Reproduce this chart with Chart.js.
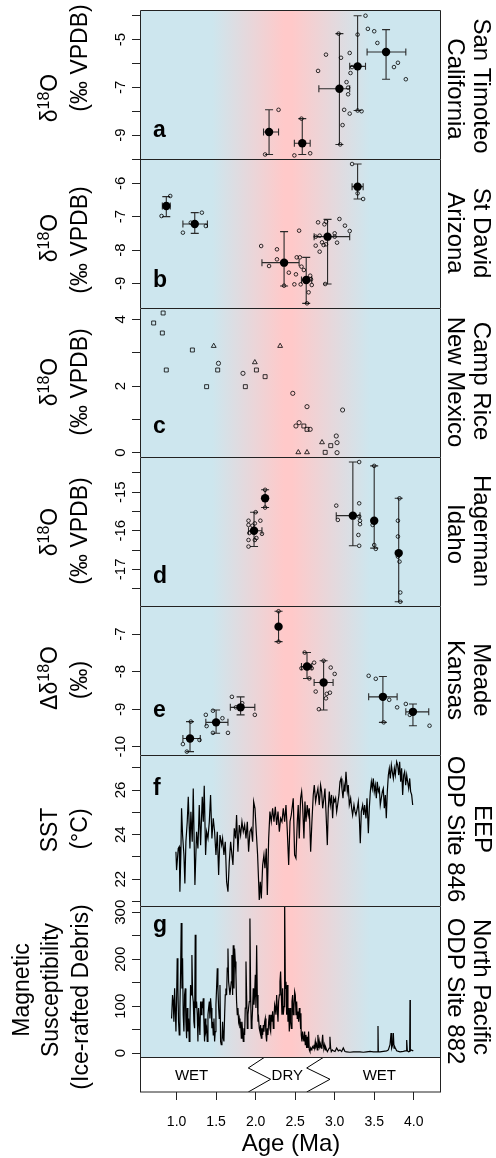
<!DOCTYPE html>
<html>
<head>
<meta charset="utf-8">
<title>Pliocene-Pleistocene records</title>
<script src="https://cdn.jsdelivr.net/npm/chart.js@4.4.1/dist/chart.umd.min.js"></script>
<style>
  html, body { margin: 0; padding: 0; background: #fff; }
  #fig { position: relative; width: 496px; height: 1158px; }
  #fig canvas { position: absolute; left: 0; top: 0; }
</style>
</head>
<body>
<div id="fig"></div>
<script>
const FONT = '"Liberation Sans", Arial, Helvetica, sans-serif';

// ---- shared x axis (Age, Ma)
const xMin = 0.55, xMax = 4.345;
const ageTicks = [1.0, 1.5, 2.0, 2.5, 3.0, 3.5, 4.0];
const bgAges = [1.45, 2.36, 2.46, 3.45];
const bgColors = ['#cde6ee', '#ffc9c9', '#ffc9c9', '#cde6ee'];

// ---- a: San Timoteo
const aAge = [2.29,2.12,2.49,2.69,2.58,3.05,3.07,2.79,2.89,3.08,3.19,3.20,3.22,3.15,3.17,3.17,3.12,3.19,3.10,3.29,3.34,3.29,3.39,3.42,3.50,3.54,3.75,3.80,3.90];
const aVal = [-7.94,-9.81,-9.85,-9.76,-8.31,-4.75,-9.39,-6.31,-5.63,-5.76,-5.56,-6.40,-6.15,-6.78,-7.01,-7.29,-7.94,-8.10,-8.58,-7.97,-8.00,-4.79,-4.00,-4.55,-4.65,-5.14,-6.15,-5.97,-6.66];
const aMeanAge = [2.17, 2.59, 3.06, 3.29, 3.65];
const aMeanVal = [-8.87, -9.34, -7.06, -6.12, -5.52];
const aYLo = [-9.81, -9.81, -9.39, -7.97, -6.66];
const aYHi = [-7.94, -8.31, -4.75, -4.00, -4.58];
const aXLo = [2.10, 2.49, 2.80, 3.19, 3.41];
const aXHi = [2.29, 2.69, 3.19, 3.39, 3.90];
const aTicks = [-10, -9, -8, -7, -6, -5, -4];
const aTickLabels = [-9, -7, -5];

// ---- b: St David
const bAge = [0.92,0.81,1.08,1.32,1.37,1.18,2.07,2.27,2.27,2.17,2.55,2.52,2.56,2.42,2.51,2.58,2.61,2.49,2.36,2.57,2.69,2.70,2.71,2.67,2.65,2.79,2.87,2.89,2.76,2.81,2.76,2.81,2.84,2.86,2.89,3.00,3.00,3.06,3.13,3.19,3.03,2.88,3.36,3.29,3.22];
const bVal = [-6.38,-6.98,-7.48,-6.88,-7.28,-7.18,-7.88,-7.98,-8.28,-8.48,-7.42,-8.22,-8.22,-8.68,-8.73,-8.50,-8.60,-9.03,-9.07,-9.03,-8.77,-8.88,-9.05,-9.27,-9.60,-7.17,-7.23,-7.15,-7.60,-7.57,-7.87,-8.05,-7.77,-7.85,-7.83,-7.50,-7.60,-7.07,-7.27,-7.43,-7.78,-9.02,-6.47,-6.30,-5.42];
const bMeanAge = [0.87, 1.23, 2.36, 2.64, 2.91, 3.29];
const bMeanVal = [-6.68, -7.22, -8.38, -8.90, -7.60, -6.10];
const bYLo = [-7.00, -7.50, -9.08, -9.60, -9.02, -6.47];
const bYHi = [-6.40, -6.88, -7.45, -8.22, -7.08, -5.42];
const bXLo = [0.82, 1.08, 2.08, 2.58, 2.74, 3.22];
const bXHi = [0.92, 1.39, 2.55, 2.71, 3.19, 3.36];
const bTicks = [-9, -8, -7, -6];
const bTickLabels = [-9, -8, -7, -6];

// ---- c: Camp Rice
const cSqAge = [0.71,0.83,0.82,1.20,0.87,1.52,2.01,2.12,1.38,1.87,2.61,2.65,2.95,2.88];
const cSqVal = [3.89,4.19,3.59,3.08,2.48,2.48,2.48,2.28,1.98,1.98,0.80,0.70,0.21,0.01];
const cTriAge = [1.47,2.31,1.99,2.84,2.54,2.65];
const cTriVal = [3.20,3.20,2.71,0.31,0.01,0.01];
const cCirAge = [1.53,1.84,2.47,2.65,3.10,2.55,2.51,2.69,3.02,3.03,3.03];
const cCirVal = [2.68,2.38,1.78,1.38,1.28,0.90,0.80,0.70,0.50,0.30,0.00];
const cTicks = [0, 1, 2, 3, 4];
const cTickLabels = [0, 2, 4];

// ---- d: Hagerman
const dAge = [1.91,1.91,1.92,1.91,1.91,2.00,1.99,2.01,1.99,2.06,2.08,1.96,2.12,2.12,3.02,3.04,3.31,3.31,3.31,3.32,3.32,3.30,3.31,3.50,3.48,3.50,3.52,3.80,3.80,3.80,3.82,3.83,3.83,3.82];
const dVal = [-15.74,-15.85,-16.06,-16.24,-16.41,-15.52,-15.81,-16.19,-16.24,-15.74,-16.08,-15.87,-14.94,-15.40,-15.35,-15.72,-14.22,-15.29,-15.63,-15.74,-15.83,-16.11,-16.39,-14.32,-15.85,-16.37,-16.47,-15.74,-16.15,-16.67,-16.80,-17.60,-17.84,-15.16];
const dMeanAge = [1.98, 2.12, 3.23, 3.50, 3.81];
const dMeanVal = [-16.00, -15.16, -15.61, -15.74, -16.58];
const dYLo = [-16.41, -15.40, -16.39, -16.45, -17.84];
const dYHi = [-15.52, -14.94, -14.22, -14.32, -15.16];
const dXLo = [1.91, 2.12, 3.02, 3.50, 3.81];
const dXHi = [2.08, 2.12, 3.32, 3.50, 3.81];
const dTicks = [-17.5, -17, -16.5, -16, -15.5, -15, -14.5];
const dTickLabels = [-17, -16, -15];

// ---- e: Meade
const eAge = [1.08,1.13,1.18,1.29,1.37,1.38,1.46,1.58,1.46,1.65,1.70,1.75,1.99,1.83,2.29,2.29,2.62,2.58,2.69,2.74,2.68,2.71,2.86,2.95,3.00,2.76,2.90,2.94,2.89,2.80,3.43,3.52,3.69,3.79,3.62,3.90,3.95,4.20];
const eVal = [-9.93,-10.13,-9.33,-9.82,-9.15,-9.45,-9.04,-9.24,-9.63,-9.63,-8.67,-8.95,-9.15,-8.84,-6.39,-7.20,-7.49,-7.91,-7.86,-7.76,-8.18,-7.91,-7.71,-7.89,-8.06,-8.53,-8.59,-8.56,-8.71,-9.00,-8.11,-8.19,-8.75,-8.95,-9.35,-8.86,-9.15,-9.44];
const eMeanAge = [1.17, 1.50, 1.81, 2.29, 2.65, 2.86, 3.61, 3.99];
const eMeanVal = [-9.78, -9.35, -8.95, -6.80, -7.86, -8.29, -8.67, -9.07];
const eYLo = [-10.13, -9.64, -9.15, -7.20, -8.18, -9.02, -9.35, -9.44];
const eYHi = [-9.33, -9.02, -8.67, -6.39, -7.49, -7.71, -8.13, -8.86];
const eXLo = [1.08, 1.37, 1.68, 2.29, 2.58, 2.74, 3.43, 3.90];
const eXHi = [1.30, 1.65, 1.99, 2.29, 2.71, 2.98, 3.79, 4.19];
const eTicks = [-10, -9, -8, -7];
const eTickLabels = [-10, -9, -8, -7];

// ---- f: SST, ODP 846
const fAge = [0.992,1.000,1.021,1.034,1.042,1.055,1.063,1.076,1.093,1.105,1.118,1.135,1.148,1.169,1.181,1.198,1.211,1.232,1.253,1.270,1.287,1.304,1.325,1.338,1.350,1.367,1.380,1.397,1.414,1.430,1.447,1.464,1.481,1.498,1.515,1.532,1.549,1.570,1.582,1.599,1.616,1.633,1.650,1.667,1.684,1.700,1.713,1.730,1.747,1.759,1.776,1.793,1.810,1.827,1.844,1.861,1.878,1.895,1.911,1.928,1.945,1.962,1.975,1.992,2.008,2.025,2.038,2.046,2.059,2.072,2.089,2.105,2.118,2.135,2.148,2.165,2.181,2.198,2.215,2.232,2.249,2.266,2.283,2.300,2.316,2.333,2.350,2.367,2.384,2.401,2.418,2.435,2.451,
  2.476,2.493,2.510,2.527,2.539,2.552,2.569,2.582,2.594,2.611,2.624,2.637,2.653,2.666,2.679,2.696,2.712,2.729,2.742,2.759,2.772,2.788,2.805,2.822,2.835,2.848,2.864,2.877,2.890,2.907,2.919,2.932,2.945,2.961,2.974,2.987,3.000,3.012,3.025,3.037,3.054,3.067,3.080,3.092,3.105,3.118,3.130,3.143,3.160,3.172,3.185,3.202,3.215,3.227,3.244,3.257,3.269,3.286,3.299,3.312,3.324,3.337,3.354,3.367,3.379,3.396,3.409,3.426,3.438,3.451,3.464,3.476,3.489,3.501,3.514,3.527,3.539,3.552,3.565,3.577,3.590,3.603,3.615,3.628,3.641,3.653,3.666,3.679,3.691,3.704,3.717,3.729,3.742,3.755,3.767,3.784,3.797,3.810,3.822,3.835,3.847,3.860,3.873,3.885,3.898,3.911,3.923,3.936,3.949,3.961,3.974,3.987];
const fSST = [23.23,22.41,23.38,23.46,21.44,23.23,25.18,23.98,23.09,21.81,23.68,24.58,25.70,23.38,25.03,23.68,26.07,21.74,24.13,23.38,25.33,23.53,25.70,24.58,26.19,23.09,24.13,23.83,24.58,25.78,23.83,24.73,24.13,23.09,24.13,22.19,23.98,23.53,23.83,23.09,23.68,21.89,21.44,22.79,23.68,23.09,22.64,24.28,23.83,24.88,23.23,24.43,23.98,24.58,24.13,24.43,23.83,24.58,23.23,24.13,24.28,23.68,25.48,25.18,24.13,23.09,21.89,21.07,21.89,21.14,22.64,23.09,22.49,23.38,21.29,23.83,25.03,24.58,25.18,24.58,25.25,24.43,25.03,24.13,24.73,24.58,25.18,24.58,25.33,24.13,22.64,24.58,24.88,
  25.63,23.09,22.94,24.58,25.33,23.83,25.63,25.93,25.33,23.83,25.48,24.58,25.33,24.88,25.18,23.23,24.58,25.78,26.22,25.48,25.78,26.07,25.33,26.22,25.93,25.18,25.63,26.07,25.03,23.53,25.18,25.93,25.33,25.78,24.73,25.63,25.48,25.63,25.03,25.33,25.78,26.37,26.52,26.07,25.63,26.22,25.93,26.82,25.93,26.22,25.33,25.63,25.18,24.88,25.33,25.03,24.88,25.18,25.48,24.73,23.61,25.03,25.33,24.88,25.33,24.73,25.63,24.06,25.18,25.93,26.37,26.07,26.52,25.93,26.22,25.63,26.37,25.93,26.07,25.33,25.63,25.93,26.07,25.18,25.78,24.73,25.93,26.67,26.97,26.52,27.12,26.82,26.52,26.97,26.67,27.27,27.12,26.67,27.27,26.37,26.97,25.78,26.67,26.82,26.22,26.67,26.37,26.07,26.52,25.93,25.78,25.33];
const fTicks = [21, 22, 23, 24, 25, 26, 27];
const fTickLabels = [22, 24, 26];

// ---- g: magnetic susceptibility, ODP 882
const gAge = [0.937,0.949,0.958,0.966,0.975,0.983,0.992,1.000,1.008,1.017,1.025,1.034,1.042,1.051,1.059,1.068,1.076,1.084,1.093,1.101,1.110,1.118,1.127,1.135,1.143,1.152,1.160,1.169,1.177,1.186,1.194,1.203,1.211,1.219,1.228,1.236,1.245,1.253,1.262,1.270,1.278,1.287,1.295,1.304,1.312,1.321,1.329,1.338,1.346,1.354,1.363,1.371,1.380,1.388,1.397,1.405,1.414,1.422,1.430,1.439,1.447,1.456,1.464,1.473,1.481,1.489,1.498,1.506,1.515,1.523,1.532,1.540,1.549,1.557,1.565,1.574,1.582,1.591,1.599,1.608,1.616,1.624,1.633,1.641,1.650,1.658,1.667,1.675,1.684,1.692,1.700,1.709,1.717,1.726,1.734,1.743,1.751,1.759,1.768,1.776,1.785,1.793,1.802,1.810,1.819,1.827,1.835,1.844,1.852,1.861,1.869,1.878,1.886,1.895,1.903,1.911,1.920,1.928,1.937,1.945,1.954,1.962,1.970,1.979,1.987,1.996,2.004,2.013,2.021,2.030,2.038,2.046,2.055,2.063,2.072,2.080,2.089,2.097,2.105,2.114,2.122,2.131,2.139,2.148,2.156,2.165,2.173,2.181,2.190,2.198,2.207,2.215,2.224,2.232,2.241,2.249,2.257,2.266,2.274,2.283,2.291,2.300,2.308,2.316,2.325,2.333,2.342,2.350,2.359,2.367,2.376,2.384,2.392,2.401,2.409,2.418,2.426,2.435,2.443,2.451,2.460,2.468,2.477,2.485,2.494,2.502,2.511,2.519,2.527,2.536,2.544,2.553,2.561,
  2.569,2.573,2.577,2.586,2.594,2.603,2.611,2.620,2.628,2.637,2.645,2.653,2.662,2.670,2.679,2.687,2.696,2.704,2.712,2.721,2.729,2.738,2.746,2.755,2.763,2.772,2.780,2.788,2.797,2.805,2.814,2.822,2.831,2.839,2.848,2.856,2.864,2.873,2.881,2.890,2.898,2.907,2.919,2.932,2.940,2.949,2.957,2.970,2.983,3.004,3.025,3.046,3.067,3.088,3.109,3.130,3.151,3.193,3.236,3.278,3.320,3.362,3.405,3.447,3.489,3.531,3.544,3.548,3.552,3.573,3.616,3.658,3.679,3.700,3.713,3.721,3.734,3.742,3.751,3.759,3.767,3.784,3.826,3.869,3.890,3.907,3.911,3.919,3.936,3.949,3.953,3.957,3.974,3.987,3.995];
const gMS = [74,124,110,67,138,96,46,110,202,138,67,39,96,174,277,138,202,82,46,124,138,67,32,96,46,74,25,67,145,124,209,124,110,67,53,252,96,110,82,25,96,67,39,110,82,110,96,117,67,25,74,46,53,25,82,96,110,74,117,96,53,67,39,74,25,46,103,138,181,138,96,74,145,25,18,25,67,32,25,82,124,138,124,181,223,152,138,124,138,152,209,124,230,138,223,195,167,110,82,96,67,74,53,67,32,67,46,25,53,39,96,195,124,53,82,96,110,287,124,53,67,96,138,103,124,167,96,230,124,67,74,53,46,60,32,53,39,60,46,67,74,39,25,53,39,67,82,53,46,82,67,89,53,74,103,96,82,124,96,67,110,124,152,174,124,82,138,82,99,330,138,152,82,145,67,96,46,96,67,53,110,124,82,96,131,124,82,110,74,89,67,96,82,
  53,85,39,25,46,32,25,46,18,39,11,35,11,46,7,3.5,11,7,11,14,11,18,11,25,14,18,7,39,11,25,14,18,11,21,39,18,11,18,7,11,7,3.5,7,11,35,11,3.5,7,5,3.5,11,5,7,3.5,11,3.5,3,2,3,3,3,2,3,4,3,3,3,58,3,3,4,5,7,18,43,11,18,43,11,14,11,5,3,4,5,5,28,5,3,4,113,5,7,5,6];
const gTicks = [0, 50, 100, 150, 200, 250, 300];
const gTickLabels = [0, 100, 200, 300];

// ---- wet / dry strip
const wetDryAge = [1.19, 2.40, 3.565];
const wetDryLabel = ['WET', 'DRY', 'WET'];
const zigLeftAge = [2.118, 1.907, 2.190, 1.907];
const zigRightAge = [2.865, 2.646, 2.941, 2.646];
const zigLevel = [1, 0.686, 0.363, 0];

Chart.defaults.font.family = FONT;
Chart.defaults.color = '#000';

const fig = document.getElementById('fig');
function addCanvas() {
  const c = document.createElement('canvas');
  c.width = 496; c.height = 1158;
  fig.appendChild(c);
  return c;
}

const pts = (xs, ys) => xs.map((x, i) => ({ x: x, y: ys[i] }));

function openPts(xs, ys, style, r) {
  return { data: pts(xs, ys), pointStyle: style, pointRadius: r,
    borderColor: '#000', backgroundColor: 'rgba(0,0,0,0)', pointBorderWidth: 0.8, borderWidth: 0.8 };
}
function meanPts(xs, ys) {
  return { data: pts(xs, ys), pointStyle: 'circle', pointRadius: 4.2,
    borderColor: '#000', backgroundColor: '#000', pointBorderWidth: 0, borderWidth: 0 };
}
function trace(xs, ys) {
  return { data: pts(xs, ys), showLine: true, pointRadius: 0, borderColor: '#000', borderWidth: 1.2, tension: 0 };
}

// rotated text, "^{..}" marks superscript
function drawText(ctx, str, x, y, size, rot) {
  const parts = str.split(/\^\{|\}/);
  ctx.save();
  ctx.translate(x, y);
  ctx.rotate(rot);
  ctx.fillStyle = '#000';
  ctx.textBaseline = 'middle';
  ctx.textAlign = 'left';
  const fonts = parts.map((t, i) => (i % 2 ? Math.round(size * 0.7) : size) + 'px ' + FONT);
  let total = 0;
  const widths = parts.map((t, i) => { ctx.font = fonts[i]; const w = ctx.measureText(t).width; total += w; return w; });
  let cx = -total / 2;
  parts.forEach((t, i) => {
    ctx.font = fonts[i];
    ctx.fillText(t, cx, i % 2 ? -size * 0.3 : 0);
    cx += widths[i];
  });
  ctx.restore();
}

function fillBg(chart) {
  const { ctx, chartArea: ca, scales: { x } } = chart;
  const g = ctx.createLinearGradient(ca.left, 0, ca.right, 0);
  bgAges.forEach((a, i) => {
    const t = (x.getPixelForValue(a) - ca.left) / (ca.right - ca.left);
    g.addColorStop(Math.min(1, Math.max(0, t)), bgColors[i]);
  });
  ctx.save();
  ctx.fillStyle = g;
  ctx.fillRect(ca.left, ca.top, ca.right - ca.left, ca.bottom - ca.top);
  ctx.restore();
}

function drawErr(chart, e) {
  const { ctx, scales: { x, y } } = chart;
  ctx.save();
  ctx.strokeStyle = '#2a2a2a';
  ctx.lineWidth = 1.1;
  e.x.forEach((a, i) => {
    const px = x.getPixelForValue(a), py = y.getPixelForValue(e.y[i]);
    const y1 = y.getPixelForValue(e.yLo[i]), y2 = y.getPixelForValue(e.yHi[i]);
    ctx.beginPath();
    ctx.moveTo(px, y1); ctx.lineTo(px, y2);
    ctx.moveTo(px - 4, y1); ctx.lineTo(px + 4, y1);
    ctx.moveTo(px - 4, y2); ctx.lineTo(px + 4, y2);
    if (e.xHi[i] > e.xLo[i]) {
      const x1 = x.getPixelForValue(e.xLo[i]), x2 = x.getPixelForValue(e.xHi[i]);
      ctx.moveTo(x1, py); ctx.lineTo(x2, py);
      ctx.moveTo(x1, py - 3.5); ctx.lineTo(x1, py + 3.5);
      ctx.moveTo(x2, py - 3.5); ctx.lineTo(x2, py + 3.5);
    }
    ctx.stroke();
  });
  ctx.restore();
}

const panels = [
  { top: 10, bottom: 159, yMin: -10.0, yMax: -3.76, ticks: aTicks, tickLabels: aTickLabels, letter: 'a', letterY: 137,
    datasets: [meanPts(aMeanAge, aMeanVal), openPts(aAge, aVal, 'circle', 1.8)],
    err: { x: aMeanAge, y: aMeanVal, xLo: aXLo, xHi: aXHi, yLo: aYLo, yHi: aYHi },
    left: [['δ^{18}O', 51, 98], ['(‰ VPDB)', 81, 58]],
    right: [['San Timoteo', 481, 86], ['California', 455, 89]] },
  { top: 159, bottom: 308, yMin: -9.74, yMax: -5.27, ticks: bTicks, tickLabels: bTickLabels, letter: 'b', letterY: 287,
    datasets: [meanPts(bMeanAge, bMeanVal), openPts(bAge, bVal, 'circle', 1.8)],
    err: { x: bMeanAge, y: bMeanVal, xLo: bXLo, xHi: bXHi, yLo: bYLo, yHi: bYHi },
    left: [['δ^{18}O', 51, 238], ['(‰ VPDB)', 81, 240]],
    right: [['St David', 481, 233], ['Arizona', 455, 233]] },
  { top: 308, bottom: 457, yMin: -0.13, yMax: 4.34, ticks: cTicks, tickLabels: cTickLabels, letter: 'c', letterY: 433,
    datasets: [openPts(cSqAge, cSqVal, 'rect', 2.8), openPts(cTriAge, cTriVal, 'triangle', 2.8), openPts(cCirAge, cCirVal, 'circle', 2.1)],
    left: [['δ^{18}O', 51, 382], ['(‰ VPDB)', 81, 382]],
    right: [['Camp Rice', 481, 381], ['New Mexico', 455, 382]] },
  { top: 457, bottom: 606, yMin: -17.95, yMax: -14.09, ticks: dTicks, tickLabels: dTickLabels, letter: 'd', letterY: 583,
    datasets: [meanPts(dMeanAge, dMeanVal), openPts(dAge, dVal, 'circle', 1.8)],
    err: { x: dMeanAge, y: dMeanVal, xLo: dXLo, xHi: dXHi, yLo: dYLo, yHi: dYHi },
    left: [['δ^{18}O', 51, 532], ['(‰ VPDB)', 81, 531]],
    right: [['Hagerman', 481, 531], ['Idaho', 455, 534]] },
  { top: 606, bottom: 755, yMin: -10.22, yMax: -6.25, ticks: eTicks, tickLabels: eTickLabels, letter: 'e', letterY: 717,
    datasets: [meanPts(eMeanAge, eMeanVal), openPts(eAge, eVal, 'circle', 1.8)],
    err: { x: eMeanAge, y: eMeanVal, xLo: eXLo, xHi: eXHi, yLo: eYLo, yHi: eYHi },
    left: [['Δδ^{18}O', 51, 678], ['(‰)', 81, 680]],
    right: [['Meade', 481, 680], ['Kansas', 455, 680]] },
  { top: 755, bottom: 906, yMin: 20.8, yMax: 27.57, ticks: fTicks, tickLabels: fTickLabels, letter: 'f', letterY: 795,
    datasets: [trace(fAge, fSST)],
    left: [['SST', 51, 830], ['(°C)', 81, 829]],
    right: [['EEP', 482, 829], ['ODP Site 846', 455, 829]] },
  { top: 906, bottom: 1057, yMin: -8.1, yMax: 313.4, ticks: gTicks, tickLabels: gTickLabels, letter: 'g', letterY: 932,
    datasets: [trace(gAge, gMS)],
    left: [['Magnetic', 23, 990], ['Susceptibility', 52, 990], ['(Ice-rafted Debris)', 82, 997]],
    right: [['North Pacific', 481, 987], ['ODP Site 882', 455, 991]] }
];

function panelPlugin(p) {
  return {
    id: 'panel',
    beforeDraw(chart) { fillBg(chart); },
    beforeDatasetsDraw(chart) { if (p.err) drawErr(chart, p.err); },
    afterDraw(chart) {
      const { ctx, chartArea: ca, scales: { y } } = chart;
      ctx.save();
      ctx.strokeStyle = '#222';
      ctx.lineWidth = 1;
      ctx.beginPath();
      ctx.moveTo(ca.left - 0.5, ca.bottom);
      ctx.lineTo(ca.left - 0.5, ca.top + 0.5);
      ctx.lineTo(ca.right - 0.5, ca.top + 0.5);
      ctx.lineTo(ca.right - 0.5, ca.bottom);
      ctx.stroke();
      ctx.restore();
      p.tickLabels.forEach(v => drawText(ctx, String(v), 121, y.getPixelForValue(v), 15, -Math.PI / 2));
      p.left.forEach(([t, x, yy]) => drawText(ctx, t, x, yy, 23, -Math.PI / 2));
      p.right.forEach(([t, x, yy]) => drawText(ctx, t, x, yy, 24, Math.PI / 2));
      ctx.save();
      ctx.font = 'bold 23px ' + FONT;
      ctx.fillStyle = '#000';
      ctx.textBaseline = 'alphabetic';
      ctx.fillText(p.letter, 153, p.letterY);
      ctx.restore();
    }
  };
}

panels.forEach(p => {
  new Chart(addCanvas(), {
    type: 'scatter',
    data: { datasets: p.datasets },
    options: {
      responsive: false, animation: false, devicePixelRatio: 1, events: [],
      layout: { padding: { left: 0, right: 55, top: p.top, bottom: 1158 - p.bottom } },
      plugins: { legend: { display: false }, tooltip: { enabled: false } },
      scales: {
        x: { type: 'linear', min: xMin, max: xMax, display: false },
        y: {
          type: 'linear', min: p.yMin, max: p.yMax,
          afterBuildTicks: s => { s.ticks = p.ticks.map(v => ({ value: v })); },
          afterFit: s => { s.width = 141; },
          ticks: { display: false },
          grid: { drawOnChartArea: false, drawTicks: true, tickLength: 9, color: '#222', lineWidth: 1 },
          border: { display: false }
        }
      }
    },
    plugins: [panelPlugin(p)]
  });
});

// wet / dry strip with the age axis
const stripPlugin = {
  id: 'strip',
  beforeDraw(chart) {
    const { ctx, chartArea: ca } = chart;
    ctx.save();
    ctx.fillStyle = '#fff';
    ctx.fillRect(ca.left, ca.top, ca.right - ca.left, ca.bottom - ca.top);
    ctx.restore();
  },
  afterDraw(chart) {
    const { ctx, chartArea: ca, scales: { x } } = chart;
    ctx.save();
    ctx.strokeStyle = '#222';
    ctx.lineWidth = 1;
    ctx.strokeRect(ca.left - 0.5, ca.top + 0.5, ca.right - ca.left, ca.bottom - ca.top - 0.5);
    ctx.font = '15px ' + FONT;
    ctx.fillStyle = '#000';
    ctx.textAlign = 'center';
    ctx.textBaseline = 'middle';
    wetDryAge.forEach((a, i) => ctx.fillText(wetDryLabel[i], x.getPixelForValue(a), (ca.top + ca.bottom) / 2 + 1));
    ctx.restore();
    drawText(ctx, 'Age (Ma)', (ca.left + ca.right) / 2, 1144, 24, 0);
  }
};

new Chart(addCanvas(), {
  type: 'scatter',
  data: {
    datasets: [
      { data: pts(zigLeftAge, zigLevel), showLine: true, pointRadius: 0, borderColor: '#000', borderWidth: 1, tension: 0 },
      { data: pts(zigRightAge, zigLevel), showLine: true, pointRadius: 0, borderColor: '#000', borderWidth: 1, tension: 0 }
    ]
  },
  options: {
    responsive: false, animation: false, devicePixelRatio: 1, events: [],
    layout: { padding: { left: 141, right: 55, top: 1057, bottom: 0 } },
    plugins: { legend: { display: false }, tooltip: { enabled: false } },
    scales: {
      x: {
        type: 'linear', min: xMin, max: xMax, position: 'bottom',
        afterBuildTicks: s => { s.ticks = ageTicks.map(v => ({ value: v })); },
        afterFit: s => { s.height = 66; },
        ticks: { color: '#000', font: { family: FONT, size: 14 }, padding: 14, maxRotation: 0, autoSkip: false,
                 callback: v => Number(v).toFixed(1) },
        grid: { drawOnChartArea: false, tickLength: 8, color: '#222' },
        border: { display: false }
      },
      y: { type: 'linear', min: 0, max: 1, display: false }
    }
  },
  plugins: [stripPlugin]
});
</script>
</body>
</html>
